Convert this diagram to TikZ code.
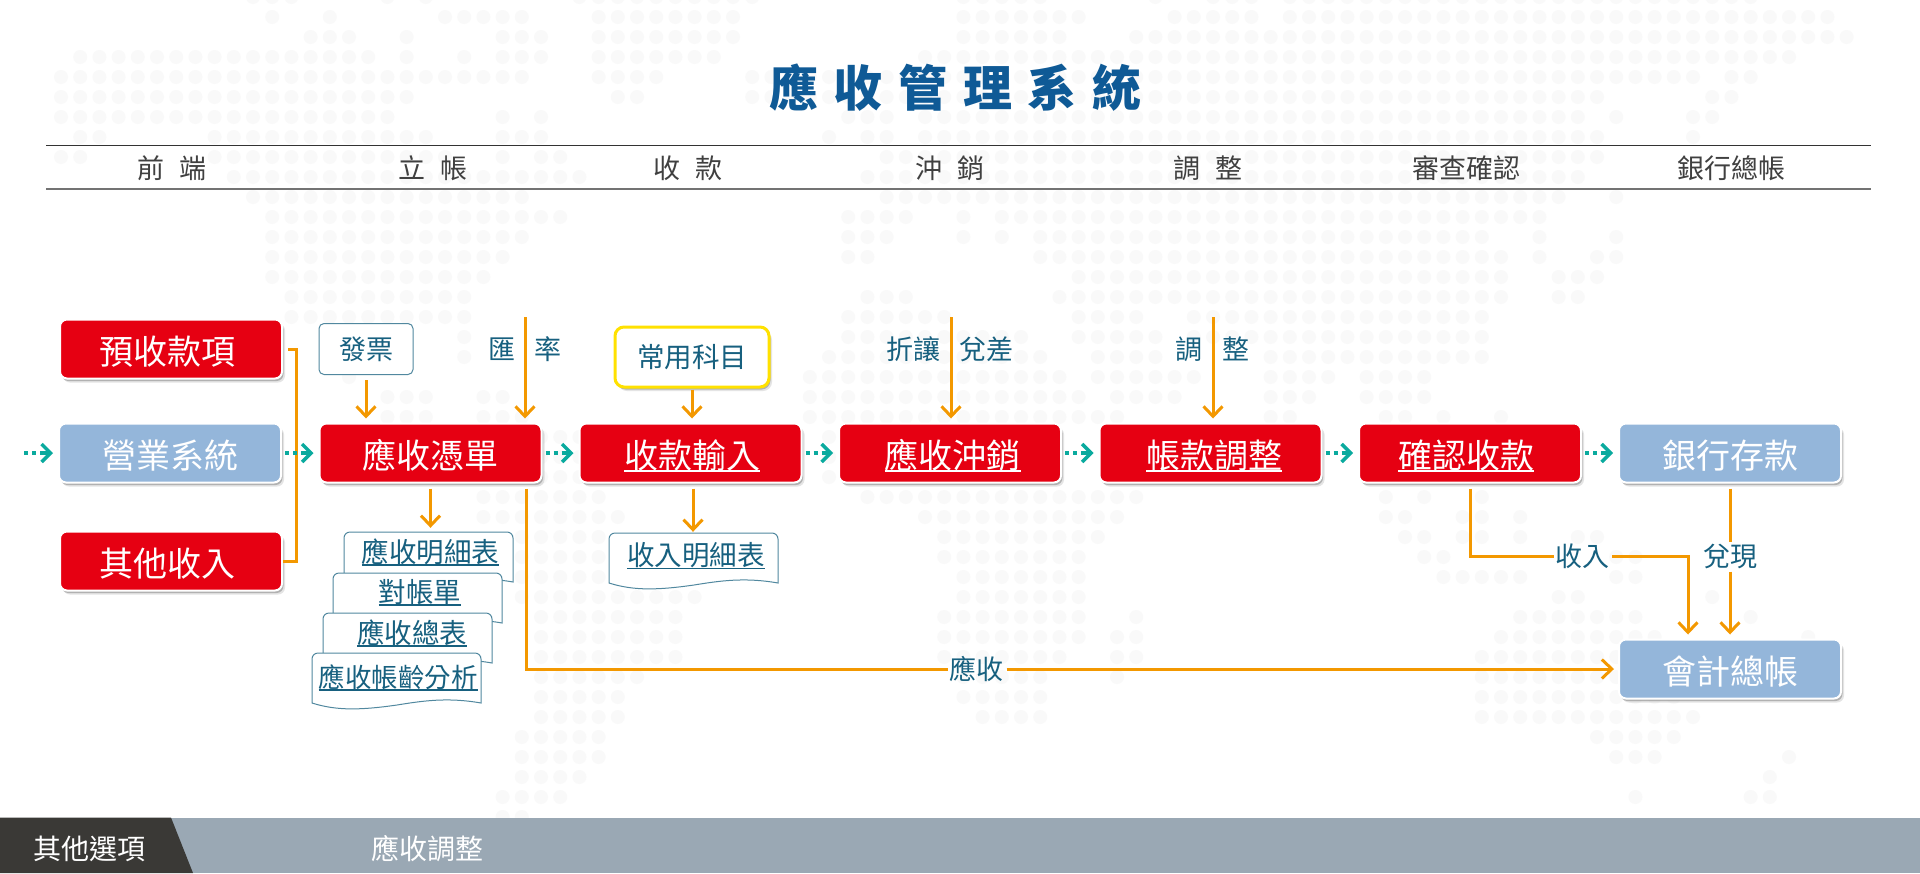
\documentclass[tikz,border=0pt]{standalone}
\usepackage{fontspec}
\setmainfont{Noto Sans CJK TC}
\usetikzlibrary{arrows.meta,shadows}
\definecolor{dotgray}{HTML}{F9F9F9}
\definecolor{boxred}{HTML}{E60012}
\definecolor{boxblue}{HTML}{94B6DA}
\definecolor{flowteal}{HTML}{0AAA9E}
\definecolor{floworange}{HTML}{F39800}
\definecolor{inkteal}{HTML}{17607F}
\definecolor{inkblue}{HTML}{0F5A96}
\definecolor{barblue}{HTML}{9AA8B4}
\definecolor{bardark}{HTML}{3A3936}
\definecolor{boxyellow}{HTML}{FFE100}
\newcommand{\linetext}[1]{\setbox0\hbox{#1}\rlap{\rule[-3.5pt]{\wd0}{1.8pt}}\box0}
\newcommand{\docpage}[2]{\draw[docline,shift={(#1,#2)}] (0,50) [rounded corners=6pt] -- (0,0) -- (169,0) [sharp corners] -- (169,50) .. controls (135,44) and (110,48) .. (85,52) .. controls (50,57) and (25,58) .. (0,50) -- cycle;}
\tikzset{
	softshadow/.style={drop shadow={shadow xshift=3pt,shadow yshift=-4pt,fill=black!30,opacity=.35},drop shadow={shadow xshift=1.5pt,shadow yshift=-2.5pt,fill=black!50,opacity=.5}},
	redbox/.style={draw=white,line width=2pt,fill=boxred,text=white,rounded corners=7pt,minimum width=222pt,minimum height=59pt,inner sep=0pt,text height=34pt,text depth=4pt,font=\fontsize{34pt}{36pt}\selectfont,softshadow},
	bluebox/.style={redbox,fill=boxblue},
	headtext/.style={text=black!75,inner sep=0pt,font=\fontsize{27pt}{30pt}\selectfont},
	labeltext/.style={text=inkteal,inner sep=1pt,font=\fontsize{27pt}{30pt}\selectfont},
	doctext/.style={text=inkteal,inner sep=0pt,minimum height=40pt,font=\fontsize{27.5pt}{30pt}\selectfont},
	docline/.style={draw=inkteal!75,fill=white,line width=1pt},
	orangeline/.style={draw=floworange,line width=3pt,shorten <=5pt},
	orangearrow/.style={orangeline,-{Straight Barb[length=10pt,width=19pt]},shorten >=4pt},
	tealarrow/.style={draw=flowteal,line width=3.5pt,dash pattern=on 4pt off 4pt on 4pt off 4pt on 60pt off 3pt,-{Straight Barb[length=9pt,width=18pt]},shorten <=3pt,shorten >=5pt},
	mapdot/.style={fill=dotgray}
}
\begin{document}
\begin{tikzpicture}[x=1pt,y=-1pt]
	\useasboundingbox (0,0) rectangle (1920,873);
	\fill[white] (0,0) rectangle (1920,873);
	\foreach \rw/\ca/\cb in {-1/10/12,-1/17/17,-1/19/19,-1/27/36,-1/47/51,-1/57/57,-1/60/62,-1/64/88,
		0/11/11,0/14/14,0/20/24,0/28/35,0/47/53,0/58/62,0/64/92,
		1/13/15,1/18/18,1/23/25,1/28/35,1/47/52,1/56/93,
		2/1/16,2/18/18,2/21/21,2/23/25,2/28/34,2/45/90,
		3/0/24,3/28/31,3/36/85,3/87/88,
		4/0/18,4/29/30,4/36/80,4/86/87,
		5/0/17,5/23/23,5/25/25,5/41/43,5/45/79,5/81/81,5/85/86,
		6/1/2,6/8/19,6/23/25,6/40/40,6/42/43,6/45/80,6/85/85,
		7/0/1,7/8/20,7/23/23,7/25/26,7/43/80,
		8/9/27,8/42/79,
		9/10/24,9/43/78,9/81/81,
		10/11/26,10/41/44,10/47/47,10/49/77,
		11/11/24,11/41/43,11/47/47,11/49/49,11/51/74,11/77/77,11/81/81,
		12/11/23,12/41/42,12/51/75,12/77/77,12/80/81,
		13/11/22,13/53/75,13/78/80,
		14/12/21,14/42/44,14/52/75,14/78/79,
		15/12/21,15/41/46,15/53/56,15/59/74,
		16/21/21,16/41/50,16/53/57,16/59/74,
		17/21/21,17/40/51,17/54/57,17/63/74,
		18/15/15,18/39/52,18/54/59,18/63/66,18/68/71,
		19/17/19,19/22/23,19/39/53,19/55/58,19/63/65,19/68/71,
		20/17/19,20/22/24,20/39/55,20/63/64,20/69/70,20/72/72,20/75/75,
		21/24/27,21/40/41,22/24/27,22/40/41,23/24/27,23/40/41,
		24/22/28,24/42/56,24/69/69,24/71/71,24/74/74,
		25/22/29,25/45/55,25/69/70,25/73/74,25/76/76,
		26/24/28,26/46/54,26/70/71,26/73/74,26/76/76,26/79/80,
		27/24/28,27/46/53,27/71/72,27/81/82,
		28/24/28,28/47/53,28/72/76,28/81/82,
		29/24/33,29/47/53,29/78/79,29/86/86,
		30/25/32,30/46/53,30/56/56,30/76/82,30/88/88,
		31/25/32,31/46/53,31/55/56,31/75/83,31/91/91,
		32/25/32,32/46/52,32/55/56,32/74/84,
		33/25/30,33/47/51,33/55/55,33/74/84,
		34/25/29,34/47/51,34/74/84,
		35/25/29,35/48/51,35/74/85,
		36/24/28,36/80/84,
		37/24/28,37/81/83,37/90/90,
		38/24/27,38/89/89,
		39/23/26,39/82/82,39/88/89,
		40/23/24}
		\foreach \kk in {\ca,...,\cb}
			\fill[mapdot] (61+19.2*\kk,17+20*\rw) circle (7);
	\node[inner sep=0pt,text=inkblue,font=\fontsize{49pt}{52pt}\selectfont\bfseries\addfontfeature{LetterSpace=32}] (titletext) at (955.5,88) {應收管理系統};
	\draw[black!80,line width=1.5pt] (46,145.5) -- (1871,145.5);
	\draw[black!55,line width=2pt] (46,188.5) -- (1871,188.5);
	\node[headtext] (hfront) at (172,168) {前\hspace{15pt}端};
	\node[headtext] (hbook) at (433,168) {立\hspace{15pt}帳};
	\node[headtext] (hreceive) at (688,168) {收\hspace{15pt}款};
	\node[headtext] (hoffset) at (950,168) {沖\hspace{15pt}銷};
	\node[headtext] (hadjust) at (1208,168) {調\hspace{15pt}整};
	\node[headtext] (hreview) at (1466,168) {審查確認};
	\node[headtext] (hbank) at (1731,168) {銀行總帳};

	\node[redbox] (prepay) at (171,349) {預收款項\kern7.5pt};
	\node[bluebox] (sales) at (170,453) {營業系統};
	\node[redbox] (other) at (171,561) {其他收入\kern7.5pt};
	\node[redbox] (voucher) at (430.5,453) {應收憑單};
	\node[redbox] (entry) at (690.5,453) {\hspace{3pt}\linetext{收款輸入}};
	\node[redbox] (offset) at (950,453) {\hspace{5pt}\linetext{應收沖銷}};
	\node[redbox] (adjust) at (1210.5,453) {\hspace{7pt}\linetext{帳款調整}};
	\node[redbox] (confirm) at (1470,453) {\linetext{確認收款}\kern7.5pt};
	\node[bluebox] (deposit) at (1730,453) {銀行存款};
	\node[bluebox] (ledger) at (1730,669) {會計總帳};

	\node[draw=inkteal!75,fill=white,line width=1pt,rounded corners=5pt,minimum width=94pt,minimum height=51pt,labeltext] (invoice) at (366,349) {發票};
	\node[labeltext] (rate) at (525,349) {匯\hspace{20pt}率};
	\node[draw=boxyellow,fill=white,line width=3pt,rounded corners=9pt,minimum width=154pt,minimum height=60pt,text=inkteal,font=\fontsize{27.5pt}{30pt}\selectfont,softshadow] (common) at (692,357) {常用科目};
	\node[labeltext] (discount) at (950,349) {折讓\hspace{20pt}兌差};
	\node[labeltext] (tweak) at (1212.5,349) {調\hspace{20pt}整};
	\coordinate (startin) at (24,453);
	\coordinate (ratein) at (525,317);
	\coordinate (discountin) at (951,317);
	\coordinate (tweakin) at (1213,317);

	\docpage{344}{532}
	\node[doctext] (dlist) at (430.5,552) {\linetext{應收明細表}};
	\docpage{333}{573}
	\node[doctext] (dbill) at (420,593) {\linetext{對帳單}};
	\docpage{323}{613}
	\node[doctext] (dtotal) at (412,633) {\linetext{應收總表}};
	\docpage{312}{653}
	\node[doctext] (daging) at (398,678) {\linetext{\fontsize{26.5pt}{30pt}\selectfont 應收帳齡分析}};
	\docpage{609}{533}
	\node[doctext] (dincome) at (696,556) {\linetext{收入明細表}};

	\draw[orangeline] (prepay.east) -- ++(13,0) |- (other.east);
	\draw[tealarrow,shorten <=0pt] (startin) -- (sales.west);
	\draw[tealarrow] (sales.east) -- (voucher.west);
	\draw[tealarrow] (voucher.east) -- (entry.west);
	\draw[tealarrow] (entry.east) -- (offset.west);
	\draw[tealarrow] (offset.east) -- (adjust.west);
	\draw[tealarrow] (adjust.east) -- (confirm.west);
	\draw[tealarrow] (confirm.east) -- (deposit.west);

	\draw[orangearrow] (invoice.south) -- (invoice.south |- voucher.north);
	\draw[orangearrow,shorten <=0pt] (ratein) -- (ratein |- voucher.north);
	\draw[orangearrow,shorten <=0pt] (discountin) -- (discountin |- offset.north);
	\draw[orangearrow,shorten <=0pt] (tweakin) -- (tweakin |- adjust.north);
	\draw[orangearrow,shorten <=1pt] (common.south) -- (common.south |- entry.north);
	\draw[orangearrow] (voucher.south) -- (voucher.south |- dlist.north);
	\draw[orangearrow] ([xshift=2.5pt]entry.south) -- ([xshift=2.5pt]entry.south |- dincome.north);

	\node[labeltext] (lreceivable) at (976.5,669) {應收};
	\node[labeltext] (lincome) at (1582,556) {收入};
	\node[labeltext] (lcash) at (1730,556) {兌現};
	\draw[orangeline] ([xshift=95.5pt]voucher.south) |- (lreceivable.west);
	\draw[orangearrow,shorten <=2pt] (lreceivable.east) -- (ledger.west);
	\draw[orangeline] (confirm.south) |- (lincome.west);
	\draw[orangearrow,shorten <=2pt] (lincome.east) -| ([xshift=-42pt]ledger.north);
	\draw[orangeline] (deposit.south) -- (lcash.north);
	\draw[orangearrow,shorten <=2pt] (lcash.south) -- (lcash.south |- ledger.north);

	\fill[barblue] (0,817.5) rectangle (1920,873);
	\fill[bardark] (0,817.5) -- (171,817.5) -- (193,873) -- (0,873) -- cycle;
	\node[text=white,inner sep=0pt,font=\fontsize{28pt}{30pt}\selectfont] (otheropt) at (90,849) {其他選項};
	\node[text=white,inner sep=0pt,font=\fontsize{28pt}{30pt}\selectfont] (aradjust) at (427,849) {應收調整};
\end{tikzpicture}
\end{document}
